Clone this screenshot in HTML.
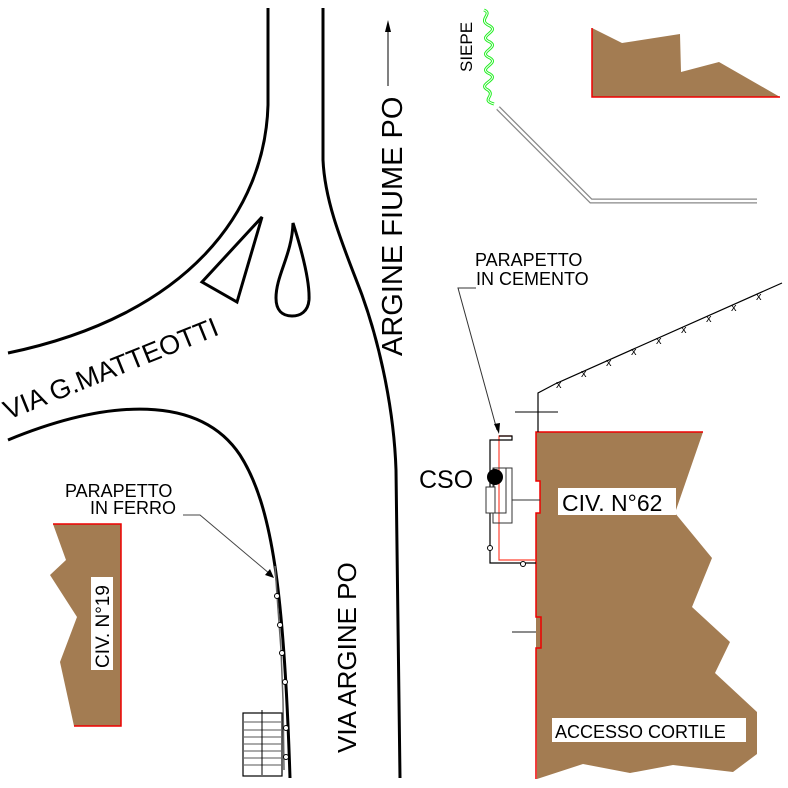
<!DOCTYPE html>
<html><head><style>
html,body{margin:0;padding:0;background:#fff;}
svg{display:block;}
text{font-family:"Liberation Sans",sans-serif;fill:#000;}
</style></head><body>
<svg width="788" height="788" viewBox="0 0 788 788" xmlns="http://www.w3.org/2000/svg">
<g fill="none" stroke="#000" stroke-width="3">
<path d="M268,8 L268,105 C265,210 190,315 8,353"/>
<path d="M323,8 L323,160 C325,205 345,250 362,295 C380,345 394,410 396,470 L400,778"/>
<path d="M8,440 C110,398 200,395 240,455 C272,505 284,590 290,778"/>
<path d="M262,217 L202,282 L237,302 Z"/>
<path d="M293,223 C300,245 310,280 309,300 C308,312 300,316 292,316 C282,316 276,310 276,298 C276,275 292,255 293,223 Z"/>
</g>
<polygon points="592,28 622,43 680,34 681,72 719,62 780,97 592,97" fill="#a37c52"/>
<polyline points="592,28 592,97 780,97" fill="none" stroke="#e00" stroke-width="1.5"/>
<path d="M484,10 C494,14 476,20 490,26 C500,32 476,36 490,42 C500,48 476,52 490,58 C500,64 476,68 490,74 C500,80 476,84 488,90 C496,96 480,100 494,104" fill="none" stroke="#2e2" stroke-width="3"/>
<path d="M484,10 C494,14 476,20 490,26 C500,32 476,36 490,42 C500,48 476,52 490,58 C500,64 476,68 490,74 C500,80 476,84 488,90 C496,96 480,100 494,104" fill="none" stroke="#fff" stroke-width="1"/>
<path d="M498,108 L591,201 L757,201" fill="none" stroke="#888" stroke-width="5"/>
<path d="M498,108 L591,201 L757,201" fill="none" stroke="#fff" stroke-width="2.5"/>
<text transform="translate(472,72) rotate(-90)" font-size="17">SIEPE</text>
<line x1="388" y1="86" x2="388" y2="26" stroke="#000" stroke-width="1"/>
<polygon points="388,20 385,32 391,32" fill="#000"/>
<text transform="translate(402,356) rotate(-90)" font-size="29">ARGINE FIUME PO</text>
<text transform="translate(356,753) rotate(-90)" font-size="26">VIA ARGINE PO</text>
<text transform="translate(8,420) rotate(-22)" font-size="27">VIA G.MATTEOTTI</text>
<polygon points="53,524 121,524 121,726 74,726 60,662 77,617 50,575 66,560" fill="#a37c52"/>
<polyline points="53,524 121,524 121,726 74,726" fill="none" stroke="#e00" stroke-width="1.5"/>
<rect x="91" y="577" width="22" height="93" fill="#fff"/>
<text transform="translate(109,668) rotate(-90)" font-size="19">CIV. N°19</text>
<text x="65" y="497" font-size="18">PARAPETTO</text>
<text x="90" y="514" font-size="18">IN FERRO</text>
<path d="M183,515 L200,515 L270,574" fill="none" stroke="#444" stroke-width="1"/>
<polygon points="274,578 265,575 270,569" fill="#000"/>
<path d="M275,566 L277,595 L281,650 L283,700 L284,770" fill="none" stroke="#666" stroke-width="1.5"/>
<g fill="#fff" stroke="#000" stroke-width="1">
<circle cx="277" cy="596" r="2.5"/><circle cx="280" cy="625" r="2.5"/><circle cx="282" cy="653" r="2.5"/><circle cx="285" cy="682" r="2.5"/><circle cx="286" cy="728" r="2.5"/><circle cx="286" cy="757" r="2.5"/>
</g>
<rect x="243" y="713" width="39" height="63" fill="none" stroke="#000" stroke-width="1.2"/>
<g stroke="#555" stroke-width="1">
<line x1="244" y1="722" x2="281" y2="722"/><line x1="244" y1="730" x2="281" y2="730"/><line x1="244" y1="737" x2="281" y2="737"/><line x1="244" y1="744" x2="281" y2="744"/><line x1="244" y1="751" x2="281" y2="751"/><line x1="244" y1="758" x2="281" y2="758"/><line x1="244" y1="765" x2="281" y2="765"/>
<line x1="262" y1="710" x2="262" y2="775" stroke="#000"/>
</g>
<polygon points="536,432 703,432 675,513 712,558 692,607 730,642 715,673 757,712 757,754 733,772 673,765 630,773 583,764 537,779 536,617 541,617 541,648 536,648 536,513 540,513 540,481 536,481" fill="#a37c52"/>
<polyline points="703,432 536,432 536,481 540,481 540,513 536,513 536,617 541,617 541,648 536,648 536,779" fill="none" stroke="#e00" stroke-width="1.5"/>
<rect x="558" y="488" width="118" height="27" fill="#fff"/>
<text x="562" y="511" font-size="23">CIV. N°62</text>
<rect x="552" y="718" width="194" height="24" fill="#fff"/>
<text x="555" y="738" font-size="18">ACCESSO CORTILE</text>
<path d="M538,432 L538,393 L555,384 L782,283" fill="none" stroke="#000" stroke-width="1.2"/>
<line x1="515" y1="412" x2="558" y2="412" stroke="#000" stroke-width="1"/>
<g font-size="11"><text x="556" y="388">x</text><text x="581" y="377">x</text><text x="606" y="366">x</text><text x="631" y="355">x</text><text x="656" y="344">x</text><text x="681" y="333">x</text><text x="706" y="322">x</text><text x="731" y="311">x</text><text x="756" y="300">x</text></g>
<line x1="512" y1="632" x2="536" y2="632" stroke="#666" stroke-width="1.5"/>
<text x="475" y="266" font-size="18">PARAPETTO</text>
<text x="476" y="285" font-size="18">IN CEMENTO</text>
<path d="M476,288 L458,288 L497,430" fill="none" stroke="#333" stroke-width="1"/>
<polygon points="499,434 494,424 500,423" fill="#000"/>
<path d="M512,436 L499,436 L499,560 L536,560" fill="none" stroke="#f43" stroke-width="1.2"/>
<path d="M499,436 L512,436 L512,440 L490,440 L490,563 L536,563" fill="none" stroke="#000" stroke-width="1.2"/>
<rect x="493" y="468" width="19" height="55" fill="none" stroke="#333" stroke-width="1"/>
<rect x="494" y="468" width="12" height="45" fill="none" stroke="#333" stroke-width="1"/>
<rect x="486" y="487" width="9" height="26" fill="#fff" stroke="#333" stroke-width="1"/>
<line x1="512" y1="500" x2="540" y2="500" stroke="#333" stroke-width="1"/>
<circle cx="495" cy="477" r="8" fill="#000"/>
<circle cx="490" cy="548" r="2.5" fill="#fff" stroke="#000"/>
<circle cx="523" cy="564" r="2.5" fill="#fff" stroke="#000"/>
<text x="419" y="488" font-size="25">CSO</text>
</svg>
</body></html>
